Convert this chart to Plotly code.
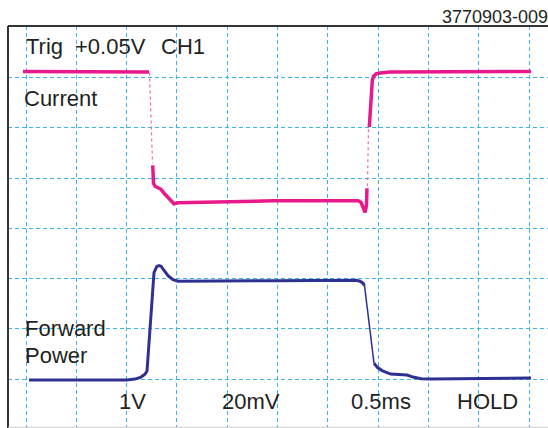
import plotly.graph_objects as go

# ---- data (in screen divisions) ----
cur_high_left_x = [-0.06, 2.445]
cur_high_left_y = [6.123, 6.113]
cur_drop_x = [2.455, 2.515]
cur_drop_y = [6.10, 4.294]
cur_low_x = [2.519, 2.535, 2.565, 2.624, 2.684, 2.763, 2.863, 2.942, 3.022, 3.459, 4.930, 6.600, 6.660, 6.700, 6.740, 6.769, 6.779]
cur_low_y = [4.254, 3.897, 3.837, 3.797, 3.777, 3.678, 3.559, 3.489, 3.509, 3.519, 3.549, 3.549, 3.519, 3.420, 3.320, 3.459, 3.797]
cur_rise_x = [6.789, 6.809]
cur_rise_y = [3.837, 4.990]
cur_high_right_x = [6.825, 6.859, 6.885, 6.909, 6.958, 7.038, 7.237, 10.040]
cur_high_right_y = [5.016, 5.547, 5.944, 6.024, 6.074, 6.093, 6.113, 6.123]

pw_main_x = [0.060, 2.008, 2.167, 2.286, 2.366, 2.406, 2.545, 2.598, 2.644, 2.684, 2.734, 2.823, 2.922, 3.022, 4.930, 6.561, 6.640, 6.700, 6.730]
pw_main_y = [-0.020, -0.020, 0.0, 0.040, 0.099, 0.159, 2.121, 2.237, 2.260, 2.247, 2.177, 2.058, 1.978, 1.948, 1.958, 1.968, 1.948, 1.909, 1.859]
pw_fall_x = [6.730, 6.918]
pw_fall_y = [1.859, 0.318]
pw_tail_x = [6.918, 6.984, 7.078, 7.250, 7.575, 7.694, 7.853, 8.052, 10.040]
pw_tail_y = [0.318, 0.233, 0.169, 0.099, 0.080, 0.040, 0.006, 0.0, 0.020]

x_grid = list(range(0, 11))
y_grid = list(range(0, 7))

top_labels = ["Trig", "+0.05V", "CH1"]
bottom_labels = ["1V", "20mV", "0.5ms", "HOLD"]
trace_labels = ["Current", "Forward", "Power"]
fig_id = "3770903-009"

# ---- styling / layout ----
W, H = 548, 428
L, T = 8, 25.5
S = 50.3
X0PX, Y0PX = 26, 379

PINK = "#E8198B"
PINK_LIGHT = "#EE6AAE"
BLUE = "#2E3192"
GRID = "#3CB4E5"
TXT = "#231F20"
FONT = "Liberation Sans, Arial, sans-serif"

fig = go.Figure()

def line(x, y, color, width, dash="solid"):
    fig.add_trace(go.Scatter(x=x, y=y, mode="lines",
                             line=dict(color=color, width=width, dash=dash, shape="linear"),
                             hoverinfo="skip", showlegend=False))

line(pw_main_x, pw_main_y, BLUE, 3)
line(pw_fall_x, pw_fall_y, BLUE, 1.5)
line(pw_tail_x, pw_tail_y, BLUE, 3)

line(cur_high_left_x, cur_high_left_y, PINK, 3.5)
line(cur_drop_x, cur_drop_y, PINK_LIGHT, 1.2, "dot")
line(cur_low_x, cur_low_y, PINK, 3.5)
line(cur_rise_x, cur_rise_y, PINK_LIGHT, 1.2, "dot")
line(cur_high_right_x, cur_high_right_y, PINK, 3.5)

xr = [(L - X0PX) / S, (W - X0PX) / S]
yr = [(Y0PX - H) / S, (Y0PX - T) / S]

def PX(px):
    return (px - L) / (W - L)

def PY(py):
    return (H - py) / (H - T)

ann = []
def text(s, x, y, size=22, anchor="left"):
    ann.append(dict(text=s, x=PX(x), y=PY(y), xref="paper", yref="paper",
                    xanchor=anchor, yanchor="middle", showarrow=False,
                    borderpad=0, borderwidth=0,
                    font=dict(family=FONT, size=size, color=TXT)))

for s, x in zip(top_labels, [26, 75, 161]):
    text(s, x, 46)
text(trace_labels[0], 24, 98)
text(trace_labels[1], 25, 328)
text(trace_labels[2], 25, 355)
for s, x in zip(bottom_labels, [119, 222, 351, 457]):
    text(s, x, 401)
text(fig_id, 548, 16, size=18, anchor="right")

shapes = [
    dict(type="line", xref="paper", yref="paper", x0=0, x1=1, y0=1, y1=1,
         line=dict(color="#333333", width=1.8)),
    dict(type="line", xref="paper", yref="paper", x0=0, x1=0, y0=0, y1=1,
         line=dict(color="#333333", width=2)),
    dict(type="line", xref="paper", yref="paper", x0=0, x1=1, y0=PY(427.3), y1=PY(427.3),
         line=dict(color="#CCCCCC", width=1)),
]

fig.update_layout(
    width=W, height=H,
    margin=dict(l=L, r=0, t=T, b=0, pad=0),
    paper_bgcolor="white", plot_bgcolor="white",
    xaxis=dict(range=xr, tickvals=x_grid, showticklabels=False, ticks="",
               showgrid=True, gridcolor=GRID, gridwidth=1, griddash="4px,3px",
               zeroline=False, showline=False, fixedrange=True),
    yaxis=dict(range=yr, tickvals=y_grid, showticklabels=False, ticks="",
               showgrid=True, gridcolor=GRID, gridwidth=1, griddash="4px,3px",
               zeroline=False, showline=False, fixedrange=True),
    annotations=ann, shapes=shapes, showlegend=False,
)

fig.write_html("out.html", config={"displayModeBar": False})
